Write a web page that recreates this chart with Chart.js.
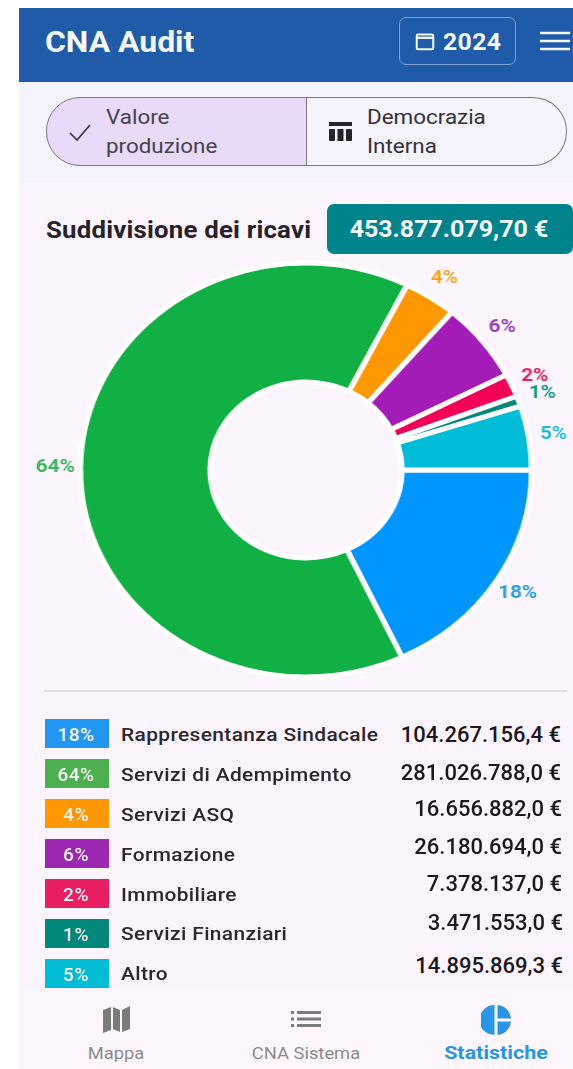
<!DOCTYPE html>
<html lang="it"><head><meta charset="utf-8"><title>CNA Audit</title>
<script src="https://cdn.jsdelivr.net/npm/chart.js@4"></script>
<style>
html,body{margin:0;padding:0;background:#fff;overflow:hidden;width:573px;height:1069px}
#page{position:relative;width:573px;height:1069px;overflow:hidden;font-family:Roboto,sans-serif;filter:blur(.45px)}
#page>*{position:absolute}
.t{white-space:nowrap;line-height:1;transform-origin:0 50%;transform:translateY(-50%) scaleX(var(--sx,1))}
.r{white-space:nowrap;line-height:1;transform:translate(-100%,-50%)}
.c{white-space:nowrap;line-height:1;transform:translate(-50%,-50%) scaleX(var(--sx,1))}
</style></head><body>
<div id="page">
 <div style="left:19px;top:8px;width:554px;height:74px;background:#1f5ba8"></div>
 <div style="left:19px;top:82px;width:554px;height:101px;background:#f5f3fb"></div>
 <div style="left:19px;top:183px;width:554px;height:807px;background:#fdf5fe"></div>
 <div style="left:19px;top:990px;width:554px;height:79px;background:#fdf7fd"></div>

 <div class="t" style="--sx:1.1;left:45px;top:42px;color:#f4f7fb;font-size:29px;font-weight:700">CNA Audit</div>
 <div style="left:399px;top:17px;width:115px;height:46px;border:1.5px solid #7fa3d3;border-radius:7px"></div>
 <svg style="left:414px;top:30px" width="22" height="22" viewBox="0 0 24 24" fill="none" stroke="#f4f7fb" stroke-width="2.2"><rect x="3" y="5" width="18" height="16" rx="1.5"/><path d="M3 8.5h18" stroke-width="2.5"/></svg>
 <div class="t" style="--sx:1.03;left:443px;top:42px;color:#f4f7fb;font-size:24px;font-weight:700;letter-spacing:.4px">2024</div>
 <svg style="left:540px;top:31px" width="30" height="20" viewBox="0 0 30 20" stroke="#f4f7fb" stroke-width="2.6"><path d="M0 2h30M0 10h30M0 18h30"/></svg>

 <div style="left:46px;top:97px;width:259px;height:67px;background:#e8daf8;border:1.5px solid #7d7a80;border-radius:34px 0 0 34px"></div>
 <div style="left:306px;top:97px;width:260px;height:67px;border:1.5px solid #7d7a80;border-left:none;border-radius:0 34px 34px 0"></div>
 <svg style="left:68px;top:121px" width="24" height="22" viewBox="0 0 24 22" fill="none" stroke="#3a3640" stroke-width="1.7"><path d="M2 12l7 7L22 4"/></svg>
 <div class="t" style="--sx:1.12;left:106px;top:117px;color:#46424c;font-size:20px">Valore</div>
 <div class="t" style="--sx:1.12;left:106px;top:146px;color:#46424c;font-size:20px">produzione</div>
 <svg style="left:328px;top:121px" width="25" height="22" viewBox="0 0 25 22" fill="#26232a"><rect x="1" y="1" width="23" height="4"/><rect x="1" y="8" width="6" height="12" rx="1"/><rect x="9.5" y="8" width="6" height="12"/><rect x="18" y="8" width="6" height="12" rx="1"/></svg>
 <div class="t" style="--sx:1.12;left:367px;top:117px;color:#33303a;font-size:20px">Democrazia</div>
 <div class="t" style="--sx:1.12;left:367px;top:146px;color:#33303a;font-size:20px">Interna</div>

 <div class="t" style="--sx:1.12;left:46px;top:230px;color:#25222a;font-size:23px;font-weight:700;letter-spacing:.2px">Suddivisione dei ricavi</div>
 <div style="left:327px;top:204px;width:246px;height:50px;background:#00838a;border-radius:7px"></div>
 <div class="c" style="--sx:1.04;left:449px;top:229px;color:#f2fbfb;font-size:24px;font-weight:700" id="total"></div>

 <canvas id="donut" width="500" height="500" style="left:56px;top:220px;width:500px;height:500px;transform:scaleX(1.09);transform-origin:50% 50%"></canvas>

 <div style="left:44px;top:690px;width:523px;height:2px;background:#e2dee2"></div>

 <svg style="left:102px;top:1005px" width="29" height="29" viewBox="0 0 29 29" fill="#7b7b7b"><path d="M1 5l8-3v23l-8 3zM11 2l7 3v22l-7-3zM20 5l8-4v23l-8 3z"/></svg>
 <div class="c" style="--sx:1.08;left:116px;top:1053px;color:#8c8c8c;font-size:17px">Mappa</div>
 <svg style="left:291px;top:1011px" width="30" height="16" viewBox="0 0 30 16" fill="#7b7b7b"><rect x="0" y="0" width="3" height="3"/><rect x="0" y="6.5" width="3" height="3"/><rect x="0" y="13" width="3" height="3"/><rect x="6" y="0" width="24" height="3"/><rect x="6" y="6.5" width="24" height="3"/><rect x="6" y="13" width="24" height="3"/></svg>
 <div class="c" style="--sx:1.08;left:306px;top:1053px;color:#8c8c8c;font-size:17px">CNA Sistema</div>
 <svg style="left:481px;top:1005px" width="30" height="30" viewBox="0 0 30 30" fill="#2a95e8"><path d="M13.5 0v30A15 15 0 0 1 13.5 0z"/><path d="M16.5 0A15 15 0 0 1 30 13.5H16.5z"/><path d="M16.5 16.5H30A15 15 0 0 1 16.5 30z"/></svg>
 <div class="c" style="--sx:1.13;left:496px;top:1052px;color:#2a95e8;font-size:19px;font-weight:700">Statistiche</div>
</div>
<script>
const categories = ["Rappresentanza Sindacale","Servizi di Adempimento","Servizi ASQ","Formazione","Immobiliare","Servizi Finanziari","Altro"];
const sliceShares = [18,64.4,3.8,6.2,1.8,0.8,5];
const percentLabels = ["18%","64%","4%","6%","2%","1%","5%"];
const amountLabels = ["104.267.156,4 €","281.026.788,0 €","16.656.882,0 €","26.180.694,0 €","7.378.137,0 €","3.471.553,0 €","14.895.869,3 €"];
const totalLabel = "453.877.079,70 €";
const sliceColors = ["#0096ff","#11b044","#ff9800","#a31cb8","#f50057","#00897b","#00bcd8"];
const legendColors = ["#2196f3","#4caf50","#ff9800","#9c27b0","#e91e63","#00897b","#00bcd4"];
const labelColors = ["#2b9fe0","#3cb55a","#f5a623","#9c3fb5","#e91e63","#1a9a88","#1fbcd2"];

document.getElementById('total').textContent = totalLabel;

const legendBoxTops = [719,759,799,839,879,919,959];
const nameCentres = [734,774,814,854,894,933,973];
const amountCentres = [735,773,809,847,884,923,966];
const amountRights = [561,561,562,562,562,563,563];
const page = document.getElementById('page');
categories.forEach((name,i)=>{
  const box=document.createElement('div');
  box.style.cssText=`left:45px;top:${legendBoxTops[i]}px;width:64px;height:29px;background:${legendColors[i]};`;
  page.appendChild(box);
  const p=document.createElement('div');p.className='c';p.textContent=percentLabels[i];
  p.style.cssText=`left:76px;top:${legendBoxTops[i]+14.5}px;color:#f3f3f3;font-size:19px;font-weight:500;letter-spacing:.5px`;
  page.appendChild(p);
  const n=document.createElement('div');n.className='t';n.textContent=name;
  n.style.cssText=`--sx:1.1;left:121px;top:${nameCentres[i]}px;color:#2a272e;font-size:19px;font-weight:500;letter-spacing:.35px`;
  page.appendChild(n);
  const a=document.createElement('div');a.className='r';a.textContent=amountLabels[i];
  a.style.cssText=`left:${amountRights[i]}px;top:${amountCentres[i]}px;color:#1a181c;font-size:22px;font-weight:500`;
  page.appendChild(a);
});

const outsideLabels = {
  id:'outsideLabels',
  afterDatasetsDraw(chart){
    const ctx=chart.ctx, arcs=chart.getDatasetMeta(0).data;
    ctx.save();
    ctx.font='700 19px Roboto, sans-serif';
    ctx.textAlign='center';ctx.textBaseline='middle';
    arcs.forEach((arc,i)=>{
      const mid=(arc.startAngle+arc.endAngle)/2, r=arc.outerRadius+23;
      ctx.fillStyle=labelColors[i];
      ctx.fillText(percentLabels[i],arc.x+Math.cos(mid)*r,arc.y+Math.sin(mid)*r);
    });
    ctx.restore();
  }
};

new Chart(document.getElementById('donut'),{
  type:'doughnut',
  data:{labels:categories,datasets:[{data:sliceShares,backgroundColor:sliceColors,borderColor:'#fff',borderWidth:5,hoverOffset:0}]},
  options:{responsive:false,animation:false,rotation:90,radius:207,cutout:'42.5%',
    plugins:{legend:{display:false},tooltip:{enabled:false}}},
  plugins:[outsideLabels]
});
</script>
</body></html>
